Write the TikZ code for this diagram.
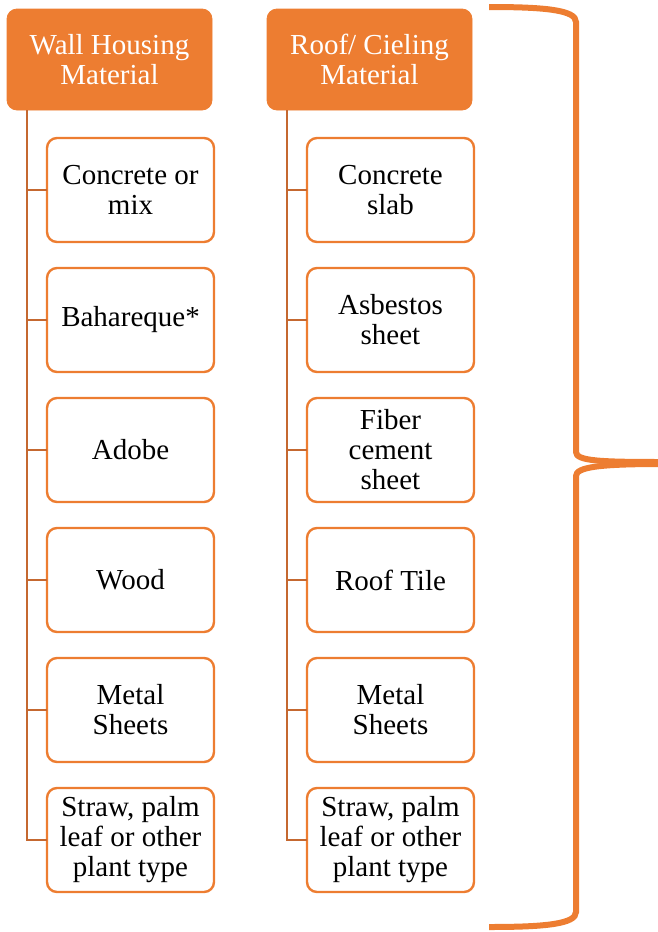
\documentclass[tikz,border=0pt]{standalone}
\usepackage{fontspec}
\setmainfont{Liberation Serif}
\usetikzlibrary{positioning}
\definecolor{accent}{HTML}{ED7D31}
\definecolor{trunk}{RGB}{197,104,48}
\tikzstyle{head}=[draw=accent,fill=accent,text=white,rectangle,rounded corners=5pt,
  minimum width=102.5pt,minimum height=50.5pt,align=center,outer sep=0pt]
\tikzstyle{item}=[draw=accent,fill=white,line width=1.2pt,rectangle,rounded corners=5pt,
  minimum width=83.5pt,minimum height=52pt,align=center,outer sep=0pt]
\tikzstyle{link}=[draw=trunk,line width=1.2pt]
\tikzstyle{brace}=[draw=accent,line width=3pt]
\tikzstyle{every node}=[font=\fontsize{14.5}{15}\selectfont]

\begin{document}
\begin{tikzpicture}[x=0.5pt,y=-0.5pt]
  \useasboundingbox (0,0) rectangle (658,932);
  % wall column
  \node[head] (wall) at (109.5,59.5) {Wall Housing\\Material};
  \node[item, below=14pt of wall.south west, anchor=north west, xshift=20pt] (w1) {Concrete or\\mix};
  \node[item, below=13pt of w1] (w2) {Bahareque*};
  \node[item, below=13pt of w2] (w3) {Adobe};
  \node[item, below=13pt of w3] (w4) {Wood};
  \node[item, below=13pt of w4] (w5) {Metal\\Sheets};
  \node[item, below=13pt of w5] (w6) {Straw, palm\\leaf or other\\plant type};
  \coordinate (wt) at ([xshift=10pt]wall.south west);
  % roof column
  \node[head] (roof) at (369.5,59.5) {Roof/ Cieling\\Material};
  \node[item, below=14pt of roof.south west, anchor=north west, xshift=20pt] (r1) {Concrete\\slab};
  \node[item, below=13pt of r1] (r2) {Asbestos\\sheet};
  \node[item, below=13pt of r2] (r3) {Fiber\\cement\\sheet};
  \node[item, below=13pt of r3] (r4) {Roof Tile};
  \node[item, below=13pt of r4] (r5) {Metal\\Sheets};
  \node[item, below=13pt of r5] (r6) {Straw, palm\\leaf or other\\plant type};
  \coordinate (rt) at ([xshift=10pt]roof.south west);
  \foreach \i in {1,...,6} {
    \draw[link] (wt) |- (w\i.west);
    \draw[link] (rt) |- (r\i.west);
  }
  % brace
  \draw[brace] (489,7) .. controls (545,7) and (576,10) .. (576,22) -- (576,452)
    .. controls (576,461) and (600,462) .. (662,462);
  \draw[brace] (489,927) .. controls (545,927) and (576,924) .. (576,912) -- (576,476)
    .. controls (576,467) and (600,464) .. (662,464);
\end{tikzpicture}
\end{document}
